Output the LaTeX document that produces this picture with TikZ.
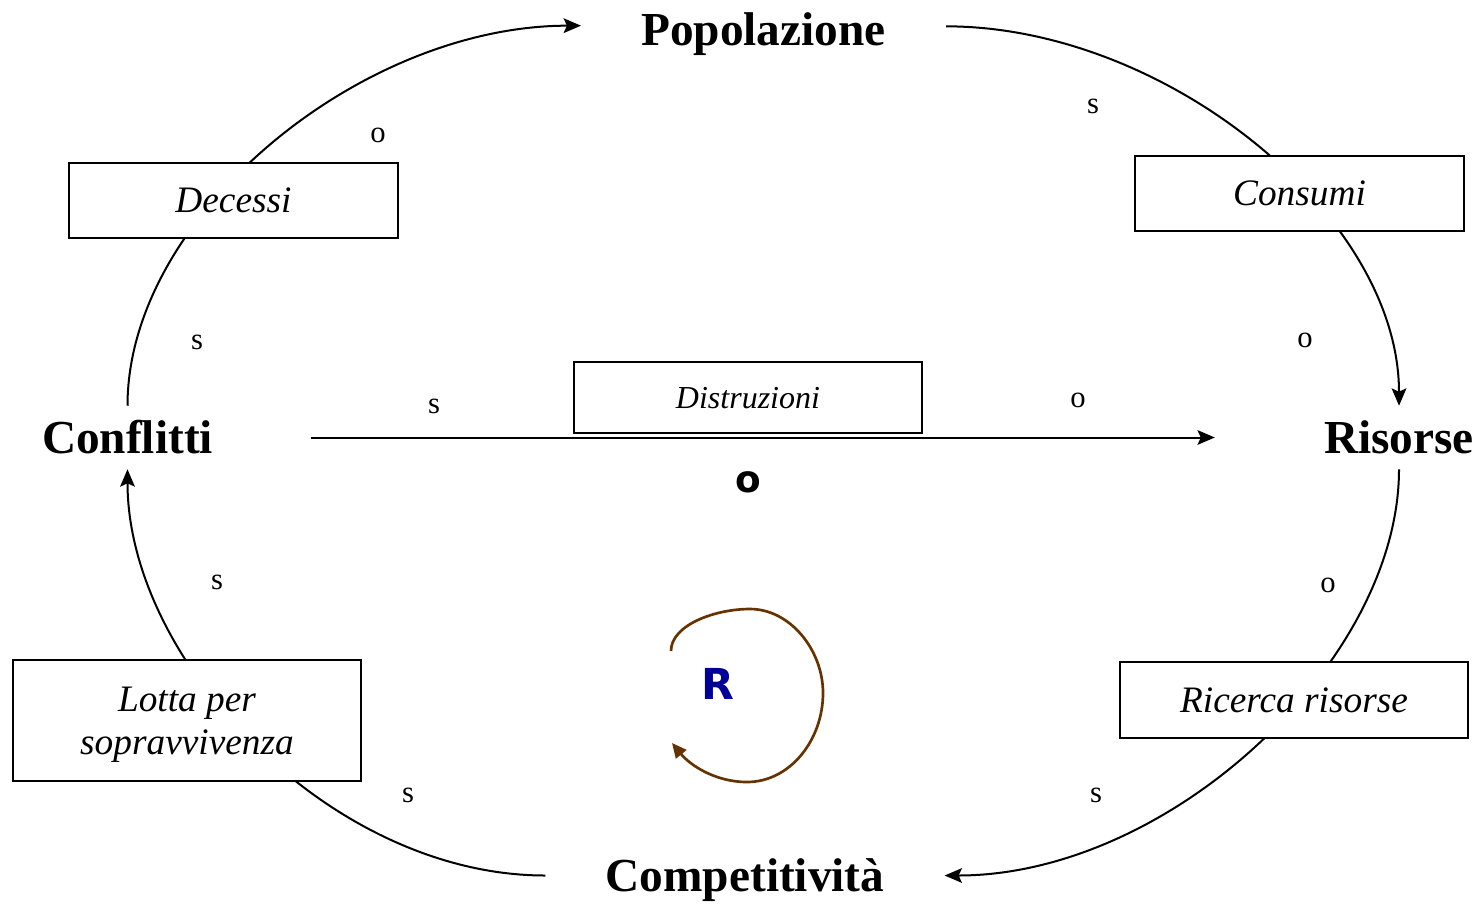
\documentclass[tikz,border=0pt]{standalone}
\usepackage{fontspec}
\setmainfont{Liberation Serif}
\newfontfamily\heavysans{DejaVu Sans}
\usetikzlibrary{arrows.meta}
\definecolor{loopbrown}{RGB}{102,51,0}
\definecolor{loopblue}{RGB}{0,0,150}

\tikzset{
  var/.style={font=\fontsize{35.5}{40}\selectfont\bfseries, text height=24.25pt,
    text depth=0pt, inner ysep=11.5pt, inner xsep=0pt},
  flowbox/.style={draw, line width=1.5pt, fill=white, inner sep=0pt, text depth=0pt,
    font=\fontsize{28}{32}\selectfont\itshape, align=center},
  link/.style={line width=1.5pt, -{Stealth[length=13pt,width=11pt,inset=2.5pt]}},
  sign/.style={font=\fontsize{23}{26}\selectfont, inner sep=0pt},
}

\begin{document}
\begin{tikzpicture}[x=0.75pt, y=-0.75pt]
\useasboundingbox (0,0) rectangle (1483,904);

% stock variables
\node[var, inner xsep=45pt] (pop)  at (763.5,29)  {Popolazione};
\node[var]                  (conf) at (127.5,437.5) {Conflitti};
\node[var]                  (ris)  at (1399,437.5)  {Risorse};
\node[var, inner xsep=45pt] (comp) at (745,875.5)   {Competitività};

% causal links round the loop
\draw[link] (conf.north) .. controls +(0,-190) and +(-220,0) .. ([yshift=2.5pt]pop.west);
\draw[link] ([yshift=2pt]pop.east) .. controls +(220,0) and +(0,-190) .. (ris.north);
\draw[link] (ris.south) .. controls +(0,192) and +(225,0) .. (comp.east);
\draw[link] (comp.west) .. controls +(-215,0) and +(0,192) .. (conf.south);

% direct link across the middle
\draw[link, shorten <=73.5pt, shorten >=81.75pt] (conf.east) -- (ris.west);

% flow boxes on the links
\node[flowbox, minimum width=246.75pt, minimum height=56.25pt] (dec) at (233.5,200.5) {Decessi};
\node[flowbox, minimum width=246.75pt, minimum height=56.25pt] (con) at (1299.5,193.5) {Consumi};
\node[flowbox, minimum width=261pt, minimum height=53.25pt,
      font=\fontsize{24}{28}\selectfont\itshape] (dis) at (748,397.5) {Distruzioni};
\node[flowbox, minimum width=261pt, minimum height=90.75pt] (lot) at (187,720.5) {Lotta per\\sopravvivenza};
\node[flowbox, minimum width=261pt, minimum height=57pt] (ric) at (1294,700) {Ricerca risorse};

% link polarities
\node[sign] (s1)  at (378,135)  {o};
\node[sign] (s2)  at (1093,106) {s};
\node[sign] (s3)  at (197,342)  {s};
\node[sign] (s4)  at (1305,340) {o};
\node[sign] (s5)  at (434,406)  {s};
\node[sign] (s6)  at (1078,400) {o};
\node[sign] (s7)  at (217,582)  {s};
\node[sign] (s8)  at (1328,585) {o};
\node[sign] (s9)  at (408,795)  {s};
\node[sign] (s10) at (1096,795) {s};
\node[inner sep=0pt, font=\fontsize{28}{30}\selectfont\heavysans\bfseries] (s11) at (748,482) {o};

% reinforcing loop marker
\node[inner sep=0pt, text=loopblue, font=\fontsize{32}{34}\selectfont\heavysans\bfseries] (rmark) at (718,684) {R};
\draw[loopbrown, line width=2pt, -{Triangle[length=11pt,width=10pt]}]
  (671,651) .. controls (671,625) and (715,609) .. (750,609)
            .. controls (790,609) and (823,650) .. (823,693)
            .. controls (823,740) and (790,782) .. (747,782)
            .. controls (715,782) and (690,765) .. (672,743);
\end{tikzpicture}
\end{document}
